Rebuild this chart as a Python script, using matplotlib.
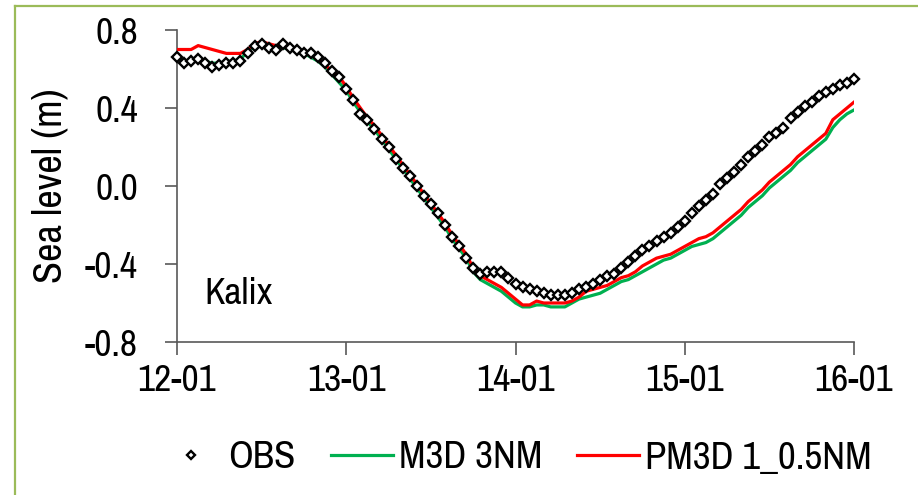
import numpy as np
import matplotlib
matplotlib.use("Agg")
import matplotlib.pyplot as plt
from matplotlib.lines import Line2D

# hourly sea level at Kalix, 12-01 00:00 .. 16-01 00:00
hours = np.arange(97)

obs = [0.66, 0.63, 0.64, 0.65, 0.63, 0.61, 0.62, 0.63, 0.63, 0.64,
       0.68, 0.72, 0.73, 0.71, 0.70, 0.73, 0.71, 0.70, 0.68, 0.68,
       0.66, 0.63, 0.59, 0.56, 0.50, 0.44, 0.37, 0.34, 0.29, 0.24,
       0.20, 0.14, 0.09, 0.05, 0.00, -0.05, -0.09, -0.14, -0.20, -0.26,
       -0.31, -0.37, -0.42, -0.45, -0.44, -0.44, -0.44, -0.47, -0.50, -0.52,
       -0.53, -0.54, -0.55, -0.56, -0.56, -0.56, -0.55, -0.53, -0.52, -0.50,
       -0.48, -0.46, -0.45, -0.42, -0.39, -0.36, -0.33, -0.31, -0.28, -0.26,
       -0.24, -0.21, -0.18, -0.14, -0.10, -0.07, -0.04, 0.01, 0.04, 0.07,
       0.11, 0.15, 0.18, 0.21, 0.25, 0.27, 0.30, 0.35, 0.38, 0.41,
       0.43, 0.46, 0.48, 0.50, 0.52, 0.53, 0.55]

m3d_3nm = [0.66, 0.64, 0.64, 0.65, 0.64, 0.63, 0.63, 0.64, 0.64, 0.65,
           0.69, 0.72, 0.73, 0.72, 0.71, 0.71, 0.70, 0.69, 0.68, 0.66,
           0.64, 0.61, 0.57, 0.53, 0.49, 0.43, 0.38, 0.33, 0.29, 0.24,
           0.19, 0.14, 0.09, 0.04, -0.01, -0.06, -0.11, -0.16, -0.21, -0.27,
           -0.32, -0.37, -0.44, -0.48, -0.50, -0.52, -0.54, -0.57, -0.60, -0.62,
           -0.62, -0.61, -0.61, -0.62, -0.62, -0.62, -0.60, -0.58, -0.57, -0.56,
           -0.55, -0.53, -0.51, -0.49, -0.48, -0.46, -0.44, -0.42, -0.40, -0.38,
           -0.37, -0.35, -0.33, -0.31, -0.30, -0.29, -0.27, -0.24, -0.21, -0.18,
           -0.15, -0.11, -0.08, -0.05, -0.01, 0.02, 0.05, 0.08, 0.12, 0.15,
           0.18, 0.21, 0.24, 0.30, 0.34, 0.37, 0.39]

pm3d_05nm = [0.70, 0.70, 0.70, 0.72, 0.71, 0.70, 0.69, 0.68, 0.68, 0.68,
             0.70, 0.73, 0.74, 0.73, 0.72, 0.72, 0.71, 0.70, 0.69, 0.67,
             0.65, 0.62, 0.59, 0.56, 0.51, 0.45, 0.40, 0.35, 0.31, 0.26,
             0.21, 0.16, 0.11, 0.06, 0.01, -0.04, -0.09, -0.14, -0.19, -0.25,
             -0.30, -0.35, -0.42, -0.46, -0.48, -0.50, -0.52, -0.55, -0.58, -0.61,
             -0.61, -0.59, -0.60, -0.60, -0.60, -0.60, -0.59, -0.57, -0.54, -0.53,
             -0.52, -0.51, -0.49, -0.47, -0.46, -0.44, -0.41, -0.39, -0.37, -0.36,
             -0.35, -0.33, -0.31, -0.29, -0.27, -0.26, -0.24, -0.21, -0.18, -0.15,
             -0.12, -0.08, -0.05, -0.02, 0.02, 0.05, 0.08, 0.11, 0.15, 0.18,
             0.21, 0.24, 0.27, 0.34, 0.37, 0.40, 0.43]

day_ticks = [0, 24, 48, 72, 96]
day_labels = ["12-01", "13-01", "14-01", "15-01", "16-01"]
y_ticks = [-0.8, -0.4, 0.0, 0.4, 0.8]

plt.rcParams['font.family'] = ['Archivo Narrow', 'Liberation Sans', 'DejaVu Sans']

fig = plt.figure(figsize=(9.18, 4.95), dpi=100)
ax = fig.add_axes([177 / 918, 1 - 342 / 495, 677 / 918, 312 / 495])

ax.plot(hours, m3d_3nm, color='#00B050', lw=2.3, label='M3D 3NM', zorder=2)
ax.plot(hours, pm3d_05nm, color='#FF0000', lw=2.3, label='PM3D 1_0.5NM', zorder=3)
ax.plot(hours, obs, ls='none', marker='D', ms=5.3, mfc='white', mec='black',
        mew=1.7, label='OBS', zorder=4, clip_on=False)

ax.set_xlim(0, 96)
ax.set_ylim(-0.8, 0.8)
ax.set_xticks(day_ticks)
ax.set_xticklabels(day_labels)
ax.set_yticks(y_ticks)
ax.set_yticklabels([f"{v:.1f}" for v in y_ticks])

axis_col = '#595959'
for side in ('top', 'right'):
    ax.spines[side].set_visible(False)
for side in ('left', 'bottom'):
    ax.spines[side].set_color(axis_col)
    ax.spines[side].set_linewidth(1.2)
ax.tick_params(axis='both', direction='out', length=9, width=1.2,
               color=axis_col, labelsize=27, labelcolor='black')
ax.tick_params(axis='y', pad=19)
ax.tick_params(axis='x', pad=7)

ax.set_ylabel("Sea level (m)", fontsize=29, labelpad=12)
ax.text(0.04, 0.155, "Kalix", transform=ax.transAxes, fontsize=27,
        ha='left', va='center')

handles, labels = ax.get_legend_handles_labels()
order = [2, 0, 1]
fig.legend([handles[i] for i in order], [labels[i] for i in order],
           loc='center', bbox_to_anchor=(516 / 918, 1 - 458 / 495), ncol=3,
           frameon=False, fontsize=28, handlelength=1.6, handletextpad=0.15,
           columnspacing=0.9, markerscale=0.75)

# thin green frame along the top and left edges
frame_col = '#9BBB59'
fig.add_artist(Line2D([15 / 918, 1], [1 - 6 / 495, 1 - 6 / 495],
                      transform=fig.transFigure, color=frame_col, lw=1.6))
fig.add_artist(Line2D([15 / 918, 15 / 918], [0, 1 - 6 / 495],
                      transform=fig.transFigure, color=frame_col, lw=1.6))

fig.savefig("out.png", dpi=100)
